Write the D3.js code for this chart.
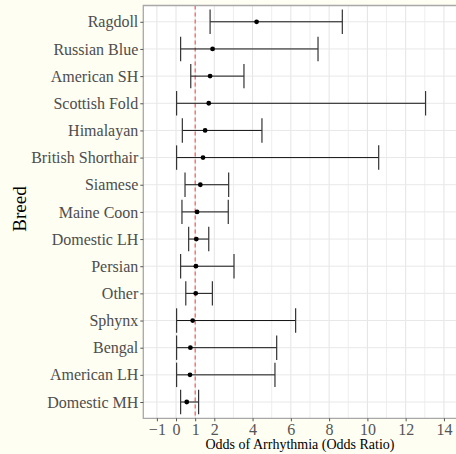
<!DOCTYPE html>
<html><head><meta charset="utf-8">
<script src="https://cdn.jsdelivr.net/npm/d3@7"></script>
<style>
html,body{margin:0;padding:0;background:#fefef3;}
svg{display:block;}
text{font-family:"Liberation Serif","Times New Roman",serif;}
</style></head>
<body>
<script>
const breeds = ["Ragdoll","Russian Blue","American SH","Scottish Fold","Himalayan","British Shorthair","Siamese","Maine Coon","Domestic LH","Persian","Other","Sphynx","Bengal","American LH","Domestic MH"];
const oddsRatio = [4.21,1.91,1.78,1.71,1.52,1.41,1.27,1.10,1.06,1.04,1.03,0.87,0.75,0.73,0.56];
const lowerCI   = [1.78,0.24,0.77,0.03,0.33,0.03,0.47,0.31,0.66,0.24,0.51,0.03,0.03,0.03,0.24];
const upperCI   = [8.69,7.42,3.55,13.04,4.49,10.59,2.75,2.73,1.71,3.03,1.90,6.25,5.26,5.17,1.18];
const xTicks = [-1,0,1,2,4,6,8,10,12,14];
const gridVals = d3.range(-1,15);
const refLine = 1;

(function(){
const W=456,H=454;
const pL=143.3, pT=5.5, pR=456, pB=418.3;
const svg=d3.select("body").append("svg").attr("width",W).attr("height",H);
svg.append("rect").attr("x",pL).attr("y",pT).attr("width",pR-pL).attr("height",pB-pT).attr("fill","#fff");

const x=d3.scaleLinear().domain([-1.71,14.63]).range([pL,pR]);
const yc=d3.scalePoint().domain(breeds).range([pT,pB]).padding(0.6);
const step=yc.step();

const g=svg.append("g");
g.selectAll(".gx").data(gridVals).join("line")
 .attr("x1",d=>x(d)).attr("x2",d=>x(d)).attr("y1",pT).attr("y2",pB)
 .attr("stroke",d=>xTicks.includes(d)?"#e4e4e4":"#eeeeee").attr("stroke-width",1);
g.selectAll(".gy").data(breeds).join("line")
 .attr("x1",pL).attr("x2",pR).attr("y1",d=>yc(d)).attr("y2",d=>yc(d))
 .attr("stroke","#e8e8e8").attr("stroke-width",1);

g.append("line").attr("x1",x(refLine)).attr("x2",x(refLine)).attr("y1",pT).attr("y2",pB)
 .attr("stroke","#f04040").attr("stroke-width",1).attr("stroke-dasharray","4,3");

const rows=breeds.map((b,i)=>({b,or:oddsRatio[i],lo:lowerCI[i],hi:upperCI[i]}));
const eb=g.selectAll(".eb").data(rows).join("g");
eb.append("line").attr("x1",d=>x(d.lo)).attr("x2",d=>x(d.hi)).attr("y1",d=>yc(d.b)).attr("y2",d=>yc(d.b))
 .attr("stroke","#111").attr("stroke-width",1);
eb.append("line").attr("x1",d=>x(d.lo)).attr("x2",d=>x(d.lo)).attr("y1",d=>yc(d.b)-step*0.45).attr("y2",d=>yc(d.b)+step*0.45)
 .attr("stroke","#333").attr("stroke-width",1.2);
eb.append("line").attr("x1",d=>x(d.hi)).attr("x2",d=>x(d.hi)).attr("y1",d=>yc(d.b)-step*0.45).attr("y2",d=>yc(d.b)+step*0.45)
 .attr("stroke","#333").attr("stroke-width",1.2);
eb.append("circle").attr("cx",d=>x(d.or)).attr("cy",d=>yc(d.b)).attr("r",2.4).attr("fill","#000");

svg.append("path").attr("d",`M${pR},${pT}H${pL}V${pB}H${pR}`)
 .attr("fill","none").attr("stroke","#a8a8a8").attr("stroke-width",1.3);

const ax=svg.append("g").attr("transform",`translate(0,${pB})`)
 .call(d3.axisBottom(x).tickValues(xTicks).tickSize(3).tickPadding(2).tickFormat(d3.format("d")));
ax.select(".domain").remove();
ax.selectAll("line").attr("stroke","#555");
ax.selectAll("text").attr("fill","#555").style("font-size","16px").style("font-family","Liberation Serif");

const ay=svg.append("g").attr("transform",`translate(${pL},0)`)
 .call(d3.axisLeft(yc).tickSize(3).tickPadding(2));
ay.select(".domain").remove();
ay.selectAll("line").attr("stroke","#555");
ay.selectAll("text").attr("fill","#4d4d4d").style("font-size","16px").style("font-family","Liberation Serif");

svg.append("text").attr("x",300).attr("y",449).attr("text-anchor","middle")
 .style("font-size","14px").attr("fill","#000").text("Odds of Arrhythmia (Odds Ratio)");
svg.append("text").attr("transform",`translate(26,209) rotate(-90)`).attr("text-anchor","middle")
 .style("font-size","19px").attr("fill","#000").text("Breed");
})();
</script>
</body></html>
